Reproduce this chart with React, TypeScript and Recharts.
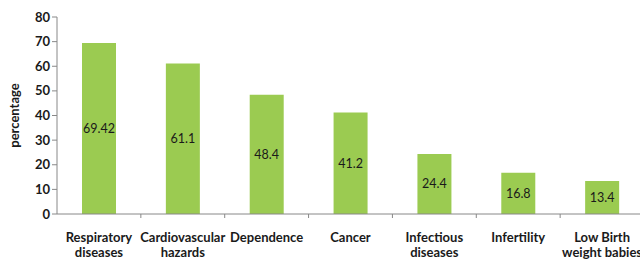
import React from "react";
import { BarChart, Bar, XAxis, YAxis, LabelList, Label } from "recharts";

const categories = [
  "Respiratory diseases",
  "Cardiovascular hazards",
  "Dependence",
  "Cancer",
  "Infectious diseases",
  "Infertility",
  "Low Birth weight babies",
];
const tickLines: string[][] = [
  ["Respiratory", "diseases"],
  ["Cardiovascular", "hazards"],
  ["Dependence"],
  ["Cancer"],
  ["Infectious", "diseases"],
  ["Infertility"],
  ["Low Birth", "weight babies"],
];
const values = [69.42, 61.1, 48.4, 41.2, 24.4, 16.8, 13.4];
const yTicks = [0, 10, 20, 30, 40, 50, 60, 70, 80];

const data = categories.map((c, i) => ({ name: c, idx: i, value: values[i] }));

const FONT = "Lato, 'Open Sans', sans-serif";
const CHART_W = 650;
const MARGIN = { top: 17, right: 6, bottom: 0, left: 2 };
const Y_W = 55;
const BAND = (CHART_W - MARGIN.left - MARGIN.right - Y_W) / categories.length;

const XTick = (props: any) => {
  const { x, y, payload } = props;
  const lines = tickLines[payload.index] || [String(payload.value)];
  return (
    <g>
      <line x1={x + BAND / 2} x2={x + BAND / 2} y1={y - 8} y2={y - 4} stroke="#888" />
      <text
        x={x}
        y={y + 20}
        textAnchor="middle"
        fontFamily={FONT}
        fontWeight={700}
        fontSize={13}
        fill="#1a1a1a"
      >
        {lines.map((l, i) => (
          <tspan key={i} x={x} dy={i === 0 ? 0 : 15}>
            {l}
          </tspan>
        ))}
      </text>
    </g>
  );
};

export default function App() {
  return (
    <div style={{ position: "absolute", left: 0, top: 0, width: 640, height: 260, overflow: "hidden", background: "#fff" }}>
      <BarChart width={CHART_W} height={260} data={data} margin={MARGIN} barCategoryGap={0}>
        <YAxis
          domain={[0, 80]}
          ticks={yTicks}
          width={Y_W}
          axisLine={{ stroke: "#888" }}
          tickLine={{ stroke: "#888" }}
          tickSize={5}
          tick={{ fontFamily: FONT, fontWeight: 700, fontSize: 13, fill: "#1a1a1a" }}
          interval={0}
        >
          <Label
            value="percentage"
            angle={-90}
            position="insideLeft"
            offset={12}
            style={{ fontFamily: FONT, fontWeight: 700, fontSize: 13, fill: "#1a1a1a", textAnchor: "middle" }}
          />
        </YAxis>
        <XAxis
          dataKey="name"
          height={46}
          axisLine={{ stroke: "#888" }}
          tickLine={false}
          interval={0}
          tick={<XTick />}
        />
        <Bar dataKey="value" fill="#9bcb51" barSize={34} isAnimationActive={false}>
          <LabelList
            dataKey="value"
            position="center"
            style={{ fontFamily: FONT, fontSize: 12.5, fill: "#1a1a1a" }}
          />
        </Bar>
      </BarChart>
    </div>
  );
}
